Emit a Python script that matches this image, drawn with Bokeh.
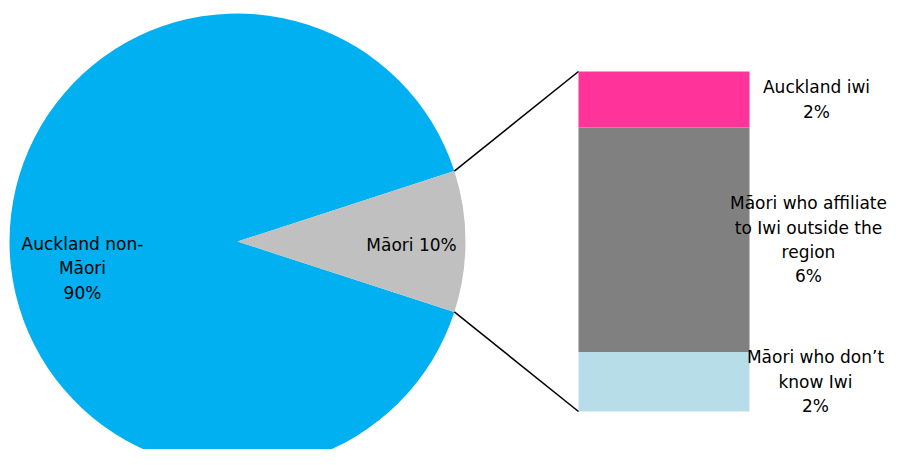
import math
from bokeh.plotting import figure
from bokeh.models import Range1d
from bokeh.core.properties import value
from bokeh.embed import file_html
from bokeh.resources import INLINE

# ---- data ----
pie_categories = ["Auckland non-Māori", "Māori"]
pie_values = [90, 10]
pie_labels = ["Auckland non-\nMāori\n90%", "Māori 10%"]
pie_colors = ["#00B0F0", "#C0C0C0"]

iwi_categories = ["Auckland iwi", "Māori who affiliate to Iwi outside the region", "Māori who don’t know Iwi"]
iwi_values = [1.65, 6.6, 1.75]
iwi_labels = ["Auckland iwi\n2%", "Māori who affiliate\nto Iwi outside the\nregion\n6%", "Māori who don’t\nknow Iwi\n2%"]
iwi_colors = ["#FF3399", "#808080", "#B7DEE8"]

# ---- layout ----
W, H = 891, 449
def sx(x):
    return x
def sy(y):
    return H - y

FONT = value("DejaVu Sans")
FSIZE = "17px"
LH = 1.22

p = figure(width=W, height=H, x_range=Range1d(0, W), y_range=Range1d(0, H),
           x_axis_type=None, y_axis_type=None, toolbar_location=None,
           output_backend="svg", min_border=0)
p.outline_line_color = None
p.xgrid.visible = False
p.ygrid.visible = False
p.background_fill_color = "white"

cx, cy, r = sx(237), sy(241), 228
total = sum(pie_values)
half = math.pi * pie_values[1] / total
starts = [half, -half]
ends = [2 * math.pi - half, half]
p.wedge(x=[cx, cx], y=[cy, cy], radius=r, start_angle=starts, end_angle=ends,
        fill_color=pie_colors, line_color=None)

# bar of pie
bl, br, bt, bb = sx(578), sx(749), sy(71), sy(411)
scale = (bt - bb) / sum(iwi_values)
tops, bottoms = [], []
cur = bt
for v in iwi_values:
    tops.append(cur)
    cur -= v * scale
    bottoms.append(cur)
p.quad(left=[bl] * 3, right=[br] * 3, top=tops, bottom=bottoms,
       fill_color=iwi_colors, line_color=None)

# connector lines
ex = cx + r * math.cos(half)
ey_top = cy + r * math.sin(half)
ey_bot = cy - r * math.sin(half)
p.segment(x0=[ex, ex], y0=[ey_top, ey_bot], x1=[bl, bl], y1=[bt, bb],
          line_color="black", line_width=1.5)

# pie labels
p.text(x=[sx(82), sx(411)], y=[sy(268), sy(244)], text=pie_labels,
       text_font=FONT, text_font_size=FSIZE, text_color="black",
       text_align="center", text_baseline="middle", text_line_height=LH)

# bar labels
label_x = [sx(816), sx(808), sx(815)]
label_y = [(t + b) / 2 for t, b in zip(tops, bottoms)]
p.text(x=label_x, y=label_y, text=iwi_labels,
       text_font=FONT, text_font_size=FSIZE, text_color="black",
       text_align="center", text_baseline="middle", text_line_height=LH)

open("out.html", "w").write(file_html(p, INLINE))
